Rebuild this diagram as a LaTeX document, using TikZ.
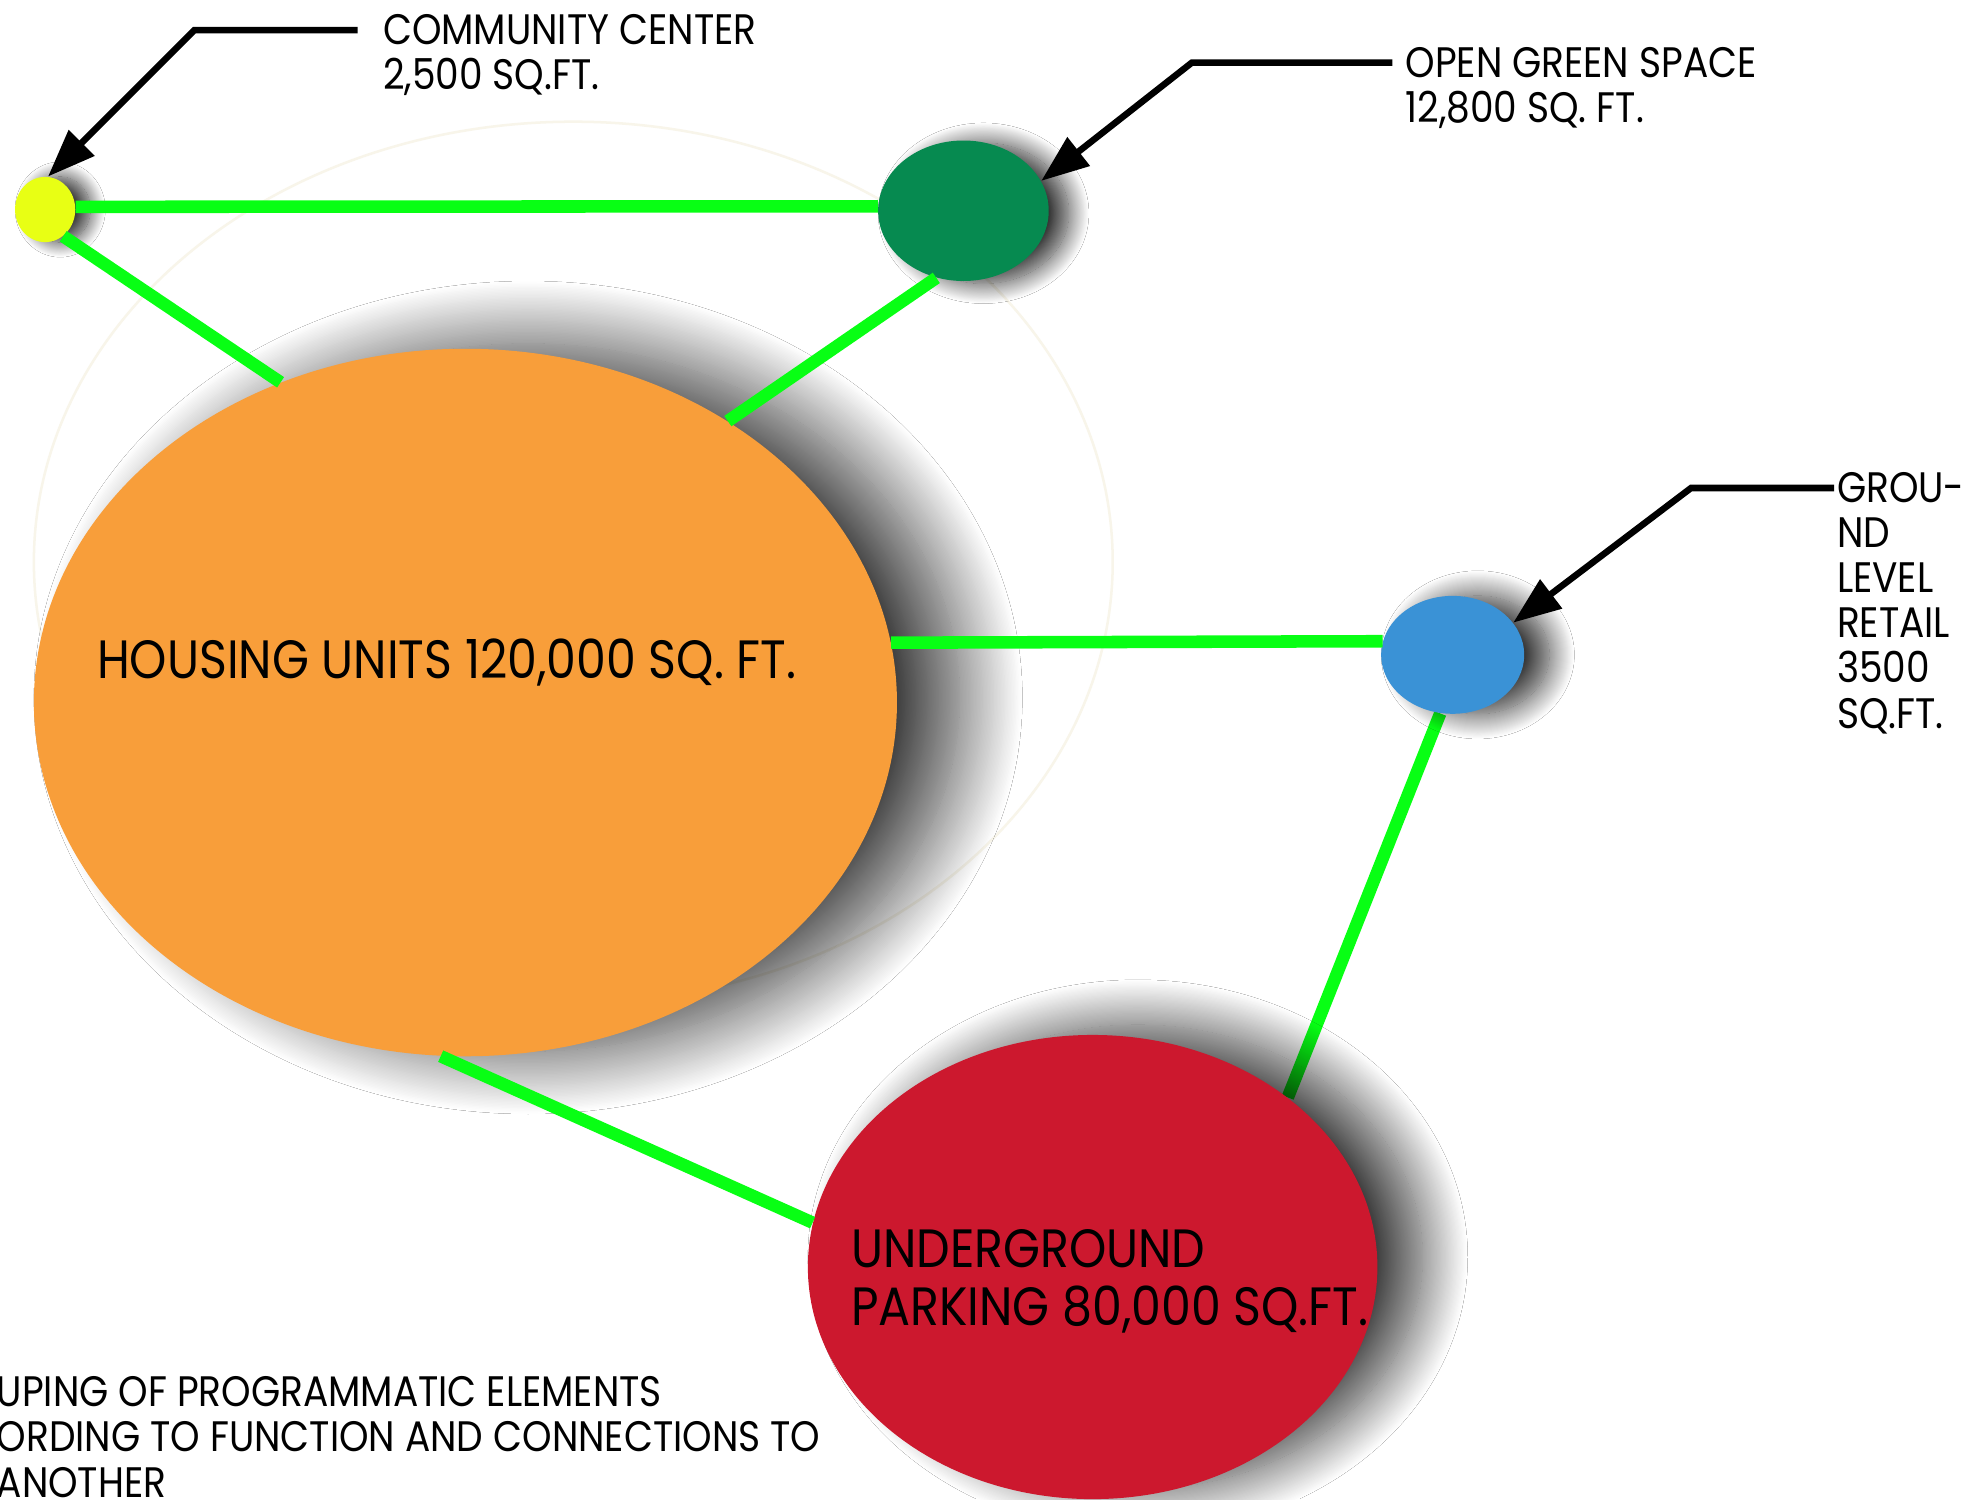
\documentclass[tikz,border=0pt]{standalone}
\usepackage{fontspec}
\setmainfont{Poppins}[FakeStretch=0.88]
\usetikzlibrary{shapes.geometric,arrows.meta,shadows.blur}
\definecolor{ccyel}{RGB}{232,255,20}
\definecolor{gsgreen}{RGB}{6,138,80}
\definecolor{huorange}{RGB}{248,158,58}
\definecolor{rtblue}{RGB}{58,146,214}
\definecolor{pkred}{RGB}{204,24,46}
\definecolor{linkgreen}{RGB}{8,255,20}
\definecolor{faintline}{RGB}{248,245,234}
\pgfdeclarelayer{under}
\pgfsetlayers{under,main}
\begin{document}
\begin{tikzpicture}[x=0.5pt,y=-0.5pt,
  zone/.style={ellipse,inner sep=0pt,draw=none},
  link/.style={line width=5pt,draw=linkgreen},
  callout/.style={line width=2.6pt,-{Triangle[length=19pt,width=14pt]}},
  lbl/.style={inner sep=0pt,anchor=north west,align=left,font=\fontsize{17}{18}\selectfont},
  biglbl/.style={inner sep=0pt,anchor=north west,align=left,font=\fontsize{21.5}{23}\selectfont}]
\useasboundingbox (0,0) rectangle (1568,1195);

\node[zone,fill=ccyel,minimum width=24pt,minimum height=26pt,
  blur shadow={shadow xshift=6pt,shadow yshift=0pt,shadow blur radius=6pt,shadow blur steps=20,shadow opacity=80}] (cc) at (36,167) {};
\node[zone,fill=gsgreen,minimum width=68pt,minimum height=56pt,
  blur shadow={shadow xshift=8pt,shadow yshift=-1pt,shadow blur radius=8pt,shadow blur steps=25,shadow opacity=80}] (gs) at (768,168) {};
\node[zone,fill=rtblue,minimum width=57pt,minimum height=47pt,
  blur shadow={shadow xshift=10pt,shadow yshift=0pt,shadow blur radius=10pt,shadow blur steps=25,shadow opacity=80}] (rt) at (1158,522) {};
\node[zone,fill=huorange,minimum width=344pt,minimum height=282pt,
  blur shadow={shadow xshift=25pt,shadow yshift=2pt,shadow blur radius=25pt,shadow blur steps=45,shadow opacity=75}] (hu) at (371,560) {};
\node[zone,fill=pkred,minimum width=227pt,minimum height=185pt,
  blur shadow={shadow xshift=18pt,shadow yshift=4pt,shadow blur radius=18pt,shadow blur steps=40,shadow opacity=75}] (pk) at (871,1010) {};

\begin{pgfonlayer}{under}
\fill[white] (0,0) rectangle (1568,1195);
\draw[faintline,line width=1pt] (457,448) ellipse [x radius=430, y radius=351];
\draw[link] (rt.258) -- (pk.41);
\end{pgfonlayer}

\draw[link] (cc.5) -- (gs.177);
\draw[link] (cc.-56) -- (hu.120);
\draw[link] (gs.248) -- (hu.47);
\draw[link] (hu.8) -- (rt.169);
\draw[link] (hu.266) -- (pk.171);

\coordinate (ccA) at (285,24);
\coordinate (ccB) at (155,24);
\draw[callout] (ccA) -- (ccB) -- (cc.85);
\coordinate (gsA) at (1110,50);
\coordinate (gsB) at (950,50);
\draw[callout] (gsA) -- (gsB) -- (gs.21);
\coordinate (rtA) at (1462,389);
\coordinate (rtB) at (1348,389);
\draw[callout] (rtA) -- (rtB) -- (rt.28);

\node[lbl] (ccl) at (305,11) {COMMUNITY CENTER\\2,500 SQ.FT.};
\node[lbl] (gsl) at (1120,37) {OPEN GREEN SPACE\\12,800 SQ. FT.};
\node[lbl] (rtl) at (1464,376) {GROU-\\ND\\LEVEL\\RETAIL\\3500\\SQ.FT.};
\node[biglbl] (hul) at (77,509) {HOUSING UNITS 120,000 SQ. FT.};
\node[biglbl] (pkl) at (678,980) {UNDERGROUND\\PARKING 80,000 SQ.FT.};
\node[lbl] (note) at (-3,1097) {UPING OF PROGRAMMATIC ELEMENTS\\ORDING TO FUNCTION AND CONNECTIONS TO\\ANOTHER};
\end{tikzpicture}
\end{document}
